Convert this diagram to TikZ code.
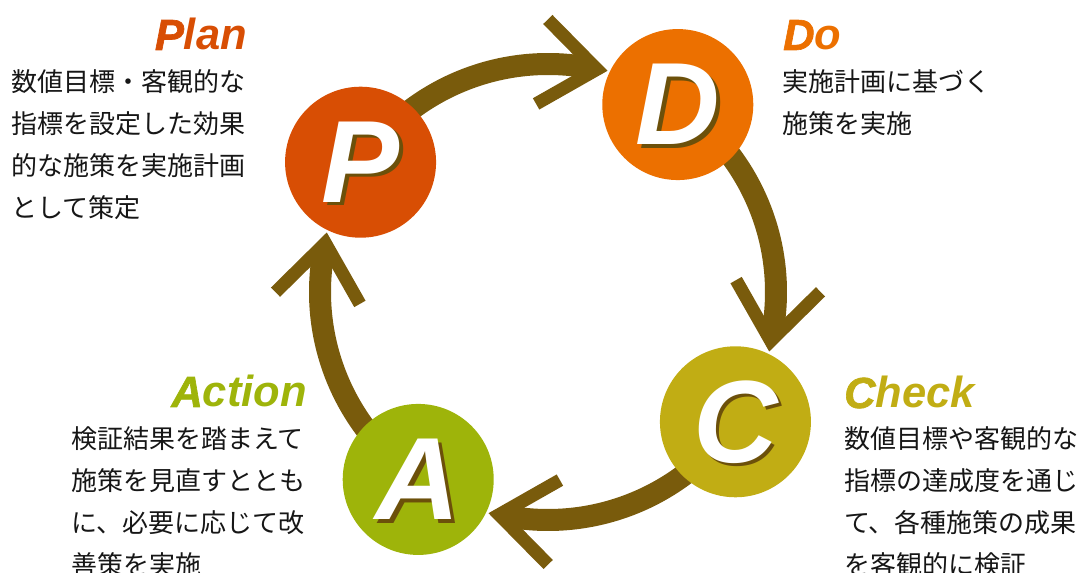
\documentclass[tikz,border=0pt]{standalone}
\usepackage{fontspec}
\usetikzlibrary{backgrounds}
\newfontfamily\jp{Noto Sans CJK JP}
\newfontfamily\hdA{Liberation Sans}
\newfontfamily\hdB[BoldItalicFeatures={FakeBold=1.5}]{Liberation Sans}
\definecolor{cP}{RGB}{216,78,4}
\definecolor{cD}{RGB}{236,112,0}
\definecolor{cC}{RGB}{193,173,20}
\definecolor{cA}{RGB}{158,180,10}
\definecolor{arcc}{RGB}{121,91,12}
\definecolor{shad}{RGB}{108,80,10}
\definecolor{txt}{RGB}{22,22,22}
\tikzset{
  stage/.style={circle, draw=none, minimum size=151pt, inner sep=0pt},
  bigl/.style={inner sep=0pt, text=white, font=\hdA\fontsize{117}{117}\selectfont\bfseries\itshape},
  cyc/.style={draw=arcc, line width=22pt},
  chev/.style={draw=arcc, line width=13pt, miter limit=10},
  head/.style={inner sep=0pt, font=\fontsize{43.5}{43.5}\selectfont},
  jline/.style={inner sep=0pt, anchor=base west, text=txt, font=\jp\fontsize{26}{42}\selectfont},
}
\begin{document}
\begin{tikzpicture}[x=1pt,y=1pt]
\useasboundingbox (0,0) rectangle (1085,573);
\coordinate (O) at (548,281);
% circles
\path (O) ++(145.3:228) node[stage, fill=cP] (P) {};
\path (O) ++(55.3:228) node[stage, fill=cD] (D) {};
\path (O) ++(-34.7:228) node[stage, fill=cC] (C) {};
\path (O) ++(-124.7:228) node[stage, fill=cA] (A) {};
% cycle arcs with chevron heads
\begin{scope}[on background layer]
\foreach \src/\s/\v/\n in {P/145.3/77.6/PD, D/55.3/-12.4/DC, C/-34.7/-102.4/CA, A/235.3/167.6/AP}{
  \draw[cyc] (\src.center) arc[start angle=\s, end angle=\v+1.3, radius=228];
  \path (O) ++(\v:228) coordinate (t\n);
  \draw[chev] (t\n) ++(\v+132:70) -- (t\n) -- ++(\v+57:70);
}
\end{scope}
% big letters with shadow
\foreach \c in {P,D,C,A}{
  \node[bigl, text=shad] (\c s) at ([shift={(3.5,-3.5)}]\c.center) {\c};
  \node[bigl] (\c l) at (\c.center) {\c};
}
% headings
\node[head, anchor=base east, text=cP] (planH) at (247,523)
  {{\hdB\bfseries\itshape P}{\hdA\bfseries\itshape lan}};
\node[head, anchor=base west, text=cD] (doH) at (783,523)
  {{\hdB\bfseries\itshape D}{\hdA\bfseries\itshape o}};
\node[head, anchor=base west, text=cC] (checkH) at (844,165)
  {{\hdB\bfseries\itshape C}{\hdA\bfseries\itshape heck}};
\node[head, anchor=base east, text=cA] (actionH) at (307,166)
  {{\hdB\bfseries\itshape A}{\hdA\bfseries\itshape ction}};
% texts
\foreach \t [count=\i] in {数値目標・客観的な, 指標を設定した効果, 的な施策を実施計画, として策定}
  \node[jline] (planT\i) at (11,523-42*\i) {\t};
\foreach \t [count=\i] in {実施計画に基づく, 施策を実施}
  \node[jline] (doT\i) at (782,523-42*\i) {\t};
\foreach \t [count=\i] in {数値目標や客観的な, 指標の達成度を通じ, て、各種施策の成果, を客観的に検証}
  \node[jline] (checkT\i) at (844,166-42*\i) {\t};
\foreach \t [count=\i] in {検証結果を踏まえて, 施策を見直すととも, に、必要に応じて改, 善策を実施}
  \node[jline] (actionT\i) at (71,166-42*\i) {\t};
\end{tikzpicture}
\end{document}
